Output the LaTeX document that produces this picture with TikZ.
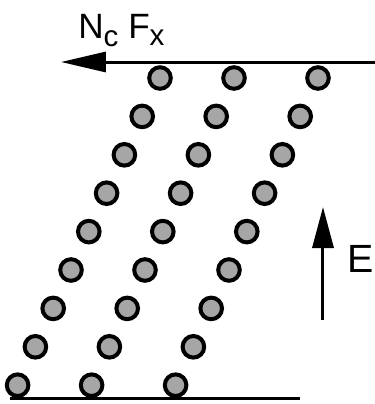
\documentclass[tikz,border=0pt]{standalone}
\usepackage{fontspec}
\setsansfont{Liberation Sans}
\usetikzlibrary{arrows.meta}

\begin{document}
\begin{tikzpicture}[x=0.025cm, y=-0.025cm,
  particula/.style={circle, draw=black, fill=gray!70, line width=0.1cm,
    minimum size=0.54cm, inner sep=0pt},
  linea/.style={line width=0.075cm},
  flecha/.style={-{Triangle[length=#1]}, line width=0.075cm},
  etiqueta/.style={font=\sffamily\fontsize{#1}{#1}\selectfont, inner sep=0pt},
]
  \useasboundingbox (0,0) rectangle (375,404);
  % Lineas superior e inferior
  \coordinate (sup-der) at (375,62);
  \coordinate (sup-izq) at (61,62);
  \coordinate (inf-izq) at (10,398);
  \coordinate (inf-der) at (300,398);
  \draw[flecha={1.12cm, width=0.5cm}] (sup-der) -- (sup-izq);
  \draw[linea] (inf-izq) -- (inf-der);
  % Particulas
  \foreach \j/\xo in {1/160, 2/234, 3/318}
    \foreach \i in {0,...,8}
      \node[particula] (p\j-\i) at ({\xo-17.8*\i},{78+38.4*\i}) {};
  % Campo E
  \coordinate (e-base) at (323,320);
  \coordinate (e-punta) at (323,207);
  \draw[flecha={1.03cm, width=0.53cm}] (e-base) -- (e-punta);
  \node[etiqueta=28, anchor=west] (campo) at (347,258.5) {E};
  % Fuerza
  \node[etiqueta=25, anchor=base west] (fuerza) at (78,38)
    {N\raisebox{-6pt}{\fontsize{21}{21}\selectfont c}\kern7pt
     F\raisebox{-5pt}{\fontsize{21}{21}\selectfont x}};
\end{tikzpicture}
\end{document}
